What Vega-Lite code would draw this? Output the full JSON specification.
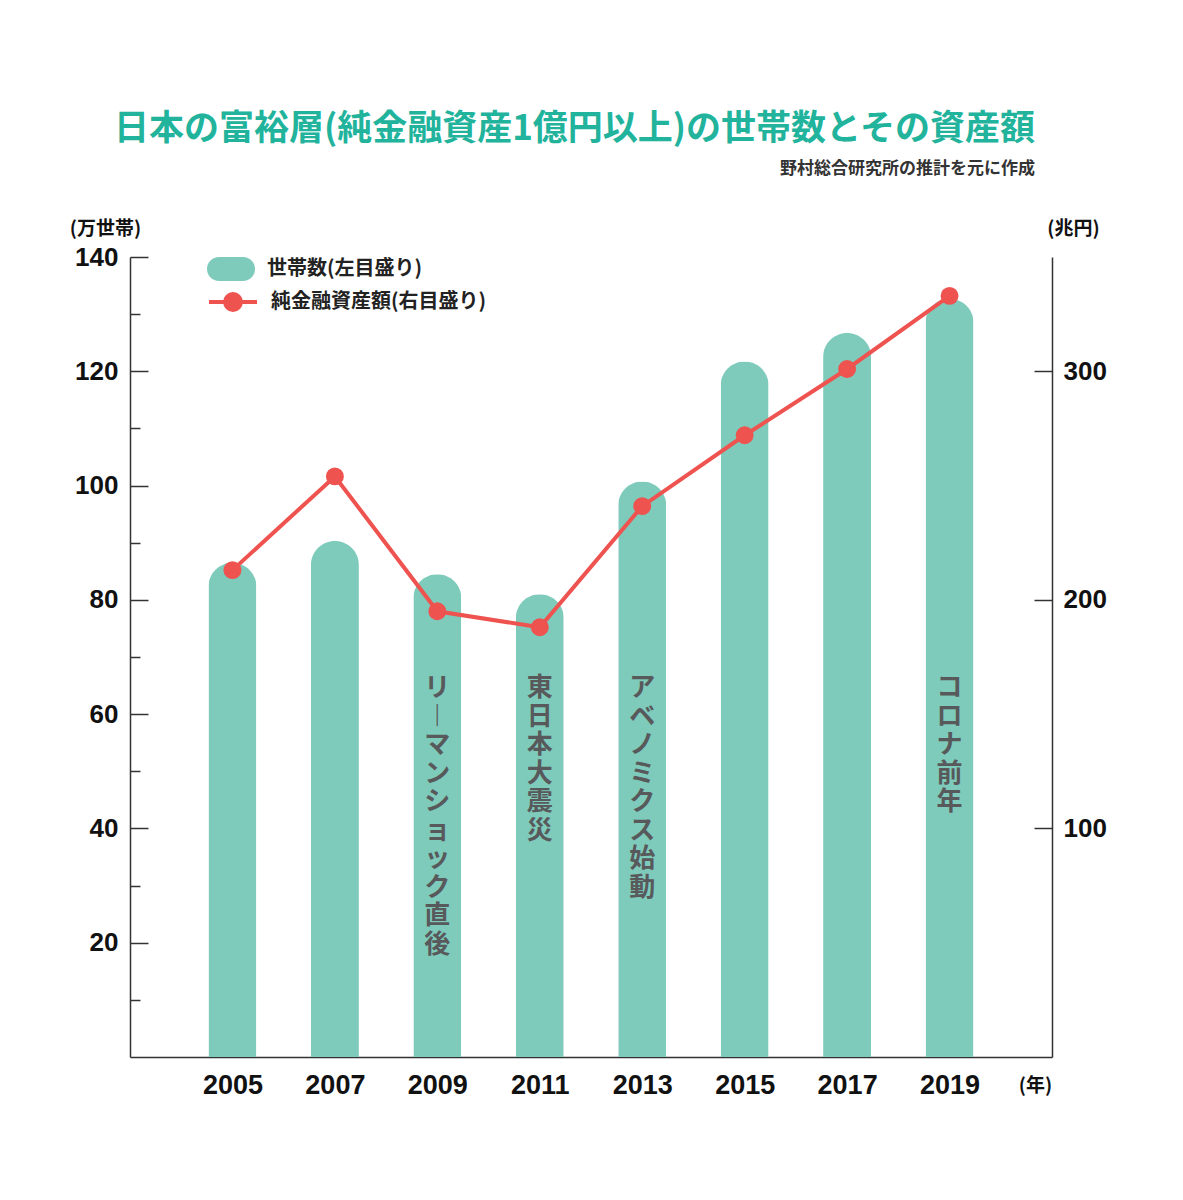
{
  "$schema": "https://vega.github.io/schema/vega-lite/v6.json",
  "width": 922,
  "height": 800,
  "autosize": {"type": "none"},
  "padding": {"left": 130, "top": 257, "right": 131, "bottom": 143},
  "background": "white",
  "title": {
    "text": "日本の富裕層(純金融資産1億円以上)の世帯数とその資産額",
    "subtitle": "野村総合研究所の推計を元に作成",
    "anchor": "end",
    "frame": "group",
    "dx": -17,
    "offset": 42,
    "font": "Noto Sans CJK JP",
    "fontSize": 35,
    "fontWeight": "bold",
    "color": "#22b39c",
    "subtitleFont": "Noto Sans CJK JP",
    "subtitleFontSize": 17,
    "subtitleFontWeight": "bold",
    "subtitleColor": "#333333",
    "subtitlePadding": 14
  },
  "config": {"view": {"stroke": null}, "font": "Liberation Sans"},
  "data": {
    "values": [
      {"year": 2005, "households": 86.5, "assets": 213, "event": null},
      {"year": 2007, "households": 90.3, "assets": 254, "event": null},
      {"year": 2009, "households": 84.5, "assets": 195, "event": "リ\n︱\nマ\nン\nシ\nョ\nッ\nク\n直\n後"},
      {"year": 2011, "households": 81.0, "assets": 188, "event": "東\n日\n本\n大\n震\n災"},
      {"year": 2013, "households": 100.7, "assets": 241, "event": "ア\nベ\nノ\nミ\nク\nス\n始\n動"},
      {"year": 2015, "households": 121.7, "assets": 272, "event": null},
      {"year": 2017, "households": 126.7, "assets": 301, "event": null},
      {"year": 2019, "households": 132.7, "assets": 333, "event": "コ\nロ\nナ\n前\n年"}
    ]
  },
  "layer": [
    {
      "layer": [
        {
          "mark": {"type": "bar", "width": 48, "cornerRadiusTopLeft": 24, "cornerRadiusTopRight": 24},
          "encoding": {
            "x": {
              "field": "year", "type": "quantitative",
              "scale": {"domain": [2003, 2021], "nice": false, "zero": false, "padding": 0},
              "axis": {
                "values": [2005, 2007, 2009, 2011, 2013, 2015, 2017, 2019],
                "format": "d", "ticks": false, "grid": false, "labelFlush": false,
                "labelPadding": 15, "labelFont": "Liberation Sans", "labelFontSize": 27, "labelFontWeight": "bold", "labelColor": "#111111",
                "domainColor": "#333333", "domainWidth": 1.5,
                "title": "(年)", "titleAngle": 0, "titleX": 905, "titleY": 28, "titleAlign": "center", "titleBaseline": "middle",
                "titleFont": "Noto Sans CJK JP", "titleFontSize": 19, "titleFontWeight": "bold", "titleColor": "#111111"
              }
            },
            "y": {
              "field": "households", "type": "quantitative",
              "scale": {"domain": [0, 140], "nice": false},
              "axis": {
                "values": [10, 20, 30, 40, 50, 60, 70, 80, 90, 100, 110, 120, 130, 140],
                "labelExpr": "datum.value % 20 === 0 ? datum.label : ''",
                "tickSize": {"condition": {"test": "datum.value % 20 === 0", "value": -18}, "value": -10},
                "labelPadding": 30, "labelFlush": false, "grid": false,
                "labelFont": "Liberation Sans", "labelFontSize": 26, "labelFontWeight": "bold", "labelColor": "#111111",
                "domainColor": "#333333", "domainWidth": 1.5, "tickColor": "#333333", "tickWidth": 1.5,
                "title": "(万世帯)", "titleAngle": 0, "titleX": -25, "titleY": -29, "titleAlign": "center", "titleBaseline": "middle",
                "titleFont": "Noto Sans CJK JP", "titleFontSize": 19, "titleFontWeight": "bold", "titleColor": "#111111"
              }
            },
            "color": {
              "datum": "世帯数(左目盛り)",
              "scale": {"range": ["#7ecbbc"]},
              "legend": {
                "title": null, "orient": "none", "legendX": 77, "legendY": -12, "padding": 0,
                "symbolType": "M-0.5,-0.5H0.5A0.5,0.5 0 0 1 0.5,0.5H-0.5A0.5,0.5 0 0 1 -0.5,-0.5Z",
                "symbolSize": 2304, "symbolOpacity": 1, "symbolStrokeWidth": 0,
                "labelOffset": 12, "labelLimit": 400, "labelFont": "Noto Sans CJK JP", "labelFontSize": 20, "labelFontWeight": "bold", "labelColor": "#222222"
              }
            }
          }
        },
        {
          "transform": [{"filter": "datum.event != null"}],
          "mark": {"type": "text", "lineBreak": "\n", "baseline": "top", "align": "center", "font": "Noto Sans CJK JP", "fontSize": 26, "fontWeight": "bold", "lineHeight": 28.5, "color": "#58595b"},
          "encoding": {
            "x": {"field": "year", "type": "quantitative"},
            "y": {"datum": 66.8},
            "text": {"field": "event"}
          }
        }
      ]
    },
    {
      "layer": [
        {
          "mark": {"type": "line", "color": "#ee5350", "strokeWidth": 4},
          "encoding": {
            "x": {"field": "year", "type": "quantitative"},
            "y": {
              "field": "assets", "type": "quantitative",
              "scale": {"domain": [0, 350], "nice": false},
              "axis": {
                "orient": "right",
                "values": [100, 200, 300],
                "tickSize": -18, "labelPadding": 29, "labelFlush": false, "grid": false,
                "labelFont": "Liberation Sans", "labelFontSize": 26, "labelFontWeight": "bold", "labelColor": "#111111",
                "domainColor": "#333333", "domainWidth": 1.5, "tickColor": "#333333", "tickWidth": 1.5,
                "title": "(兆円)", "titleAngle": 0, "titleX": 21, "titleY": -29, "titleAlign": "center", "titleBaseline": "middle",
                "titleFont": "Noto Sans CJK JP", "titleFontSize": 19, "titleFontWeight": "bold", "titleColor": "#111111"
              }
            }
          }
        },
        {
          "mark": {"type": "point", "filled": true, "size": 320, "opacity": 1},
          "encoding": {
            "x": {"field": "year", "type": "quantitative"},
            "y": {"field": "assets", "type": "quantitative"},
            "color": {
              "datum": "純金融資産額(右目盛り)",
              "scale": {"range": ["#ee5350"]},
              "legend": {
                "title": null, "orient": "none", "legendX": 77, "legendY": 19, "padding": 0,
                "symbolType": "M-1,0H1M0.33,0A0.33,0.33 0 1 1 -0.33,0A0.33,0.33 0 1 1 0.33,0Z",
                "symbolSize": 2304, "symbolOpacity": 1,
                "labelOffset": 12, "labelLimit": 400, "labelFont": "Noto Sans CJK JP", "labelFontSize": 20, "labelFontWeight": "bold", "labelColor": "#222222",
                "encode": {"symbols": {"update": {"fill": {"value": "#ee5350"}, "stroke": {"value": "#ee5350"}, "strokeWidth": {"value": 4}}}}
              }
            }
          }
        }
      ]
    }
  ],
  "resolve": {"scale": {"y": "independent", "color": "independent"}}
}
